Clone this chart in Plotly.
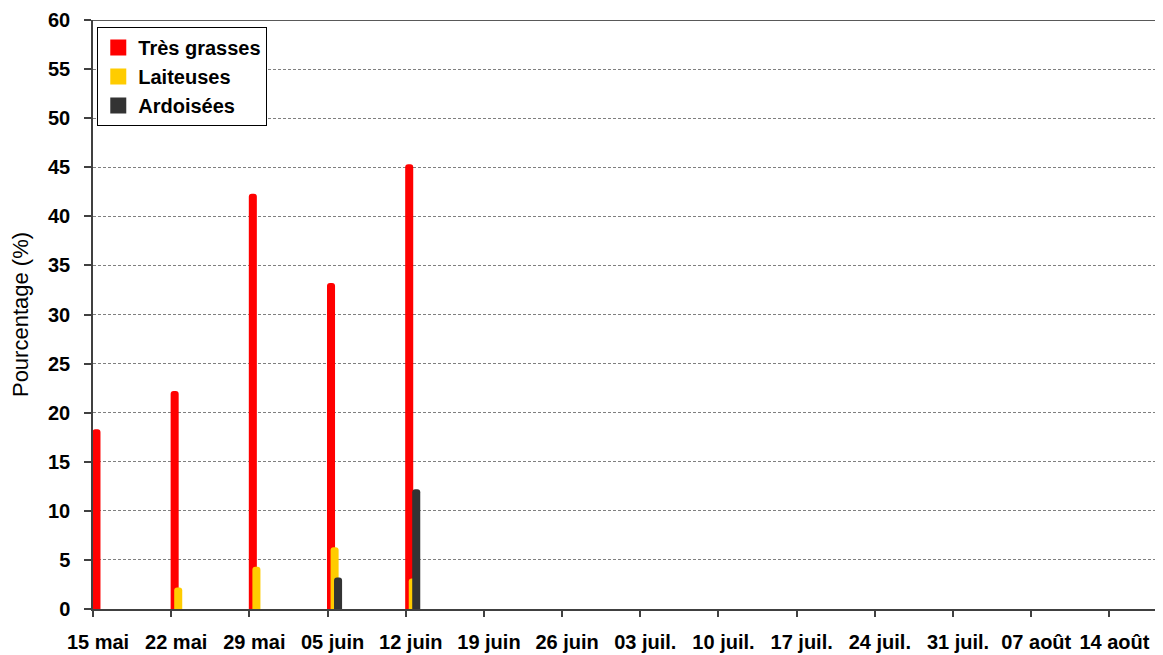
import plotly.graph_objects as go

# ---- data ----
dates = ["2023-05-15", "2023-05-22", "2023-05-29", "2023-06-05", "2023-06-12",
         "2023-06-19", "2023-06-26", "2023-07-03", "2023-07-10", "2023-07-17",
         "2023-07-24", "2023-07-31", "2023-08-07", "2023-08-14"]
tick_labels = ["15 mai", "22 mai", "29 mai", "05 juin", "12 juin", "19 juin", "26 juin",
               "03 juil.", "10 juil.", "17 juil.", "24 juil.", "31 juil.", "07 août", "14 août"]
obs_dates = ["2023-05-15", "2023-05-22", "2023-05-29", "2023-06-05", "2023-06-12"]
tres_grasses = [18.3, 22.2, 42.3, 33.2, 45.3]
laiteuses = [0, 2.2, 4.3, 6.3, 3.1]
ardoisees = [0, 0, 0, 3.2, 12.2]
series_names = ["Très grasses", "Laiteuses", "Ardoisées"]
colors = ["#FF0000", "#FFCC00", "#333333"]
y_ticks = [0, 5, 10, 15, 20, 25, 30, 35, 40, 45, 50, 55, 60]

DAY = 86400000
bar_w = 0.72 * DAY
offsets = [-0.05 * DAY, 0.27 * DAY, 0.58 * DAY]

FONT = "Liberation Sans"

fig = go.Figure()
for vals, name, col, off in zip([tres_grasses, laiteuses, ardoisees], series_names, colors, offsets):
    fig.add_trace(go.Bar(
        x=obs_dates, y=vals, name=name, width=bar_w, offset=off,
        marker=dict(color=col, line=dict(width=0), cornerradius="45%"),
        showlegend=False, legendgroup=name,
    ))
# legend swatches
for name, col in zip(series_names, colors):
    fig.add_trace(go.Scatter(
        x=[None], y=[None], mode="markers", name=name, legendgroup=name,
        marker=dict(symbol="square", size=18, color=col),
    ))

fig.add_shape(type="line", xref="paper", yref="y", x0=0, x1=1, y0=60, y1=60,
              line=dict(color="#595959", width=2))

# the page body has an 8px margin; the figure is sized to fill the rest of the window
fig.update_layout(
    width=1155, height=647,
    margin=dict(l=85, r=1, t=10, b=46),
    paper_bgcolor="white", plot_bgcolor="white",
    barmode="overlay",
    font=dict(family=FONT, color="black"),
    showlegend=True,
    legend=dict(
        x=0.004, y=0.988, xanchor="left", yanchor="top",
        bordercolor="black", borderwidth=1, bgcolor="white",
        font=dict(family=FONT, size=20, color="black", weight="bold"),
        tracegroupgap=0, itemwidth=30,
    ),
    xaxis=dict(
        type="date",
        range=["2023-05-15", "2023-08-18T17:00"],
        tickmode="array", tickvals=dates, ticktext=tick_labels,
        showgrid=False, zeroline=False,
        showline=True, linecolor="#404040", linewidth=1.5,
        ticks="outside", ticklen=6, tickcolor="#404040", tickwidth=1.5,
        tickfont=dict(family=FONT, size=20, color="black", weight="bold"),
        ticklabelstandoff=8, ticklabelshift=5,
    ),
    yaxis=dict(
        range=[0, 60.001], tickmode="array", tickvals=y_ticks,
        showgrid=True, gridcolor="#7f7f7f", gridwidth=1, griddash="3px,2px",
        zeroline=False,
        showline=True, linecolor="#404040", linewidth=1.5,
        ticks="outside", ticklen=7, tickcolor="#404040", tickwidth=1.5,
        tickfont=dict(family=FONT, size=20, color="black", weight="bold"),
        ticklabelstandoff=10, ticklabeloverflow="allow",
        title=dict(text="Pourcentage (%)", font=dict(family=FONT, size=22, color="black"),
                   standoff=14),
    ),
)

fig.write_html("out.html")
